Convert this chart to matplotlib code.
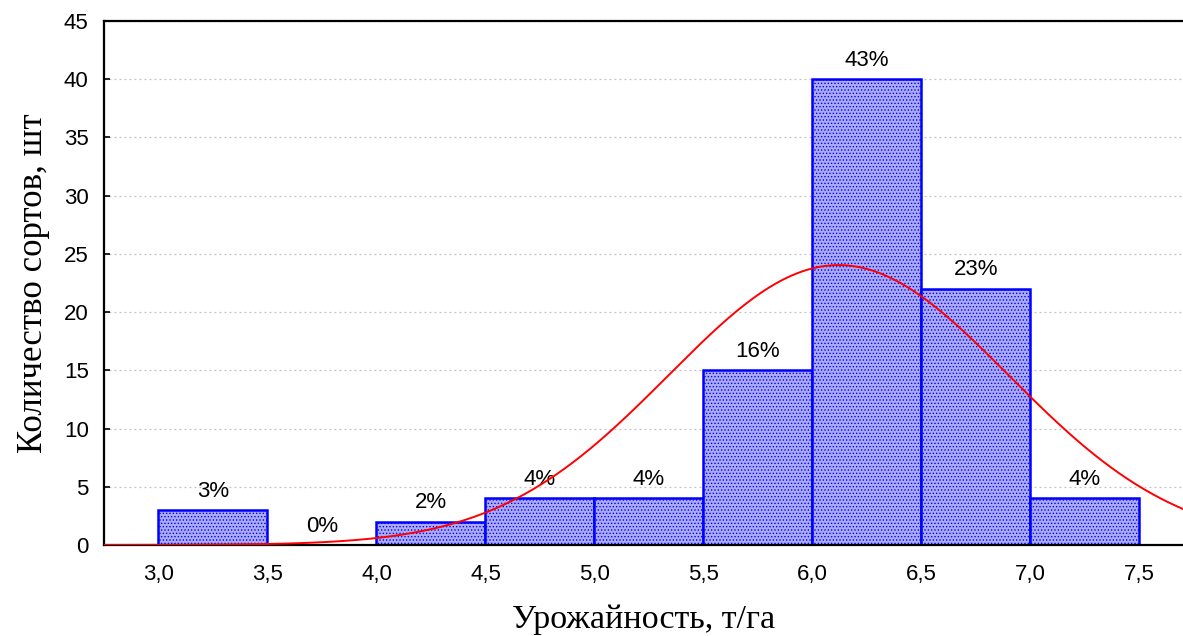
import numpy as np
import matplotlib.pyplot as plt

bin_edges = [3.0, 3.5, 4.0, 4.5, 5.0, 5.5, 6.0, 6.5, 7.0, 7.5]
counts = [3, 0, 2, 4, 4, 15, 40, 22, 4]
# normal fit parameters
mu = 6.12
sigma = 0.78

x_ticks = [3.0, 3.5, 4.0, 4.5, 5.0, 5.5, 6.0, 6.5, 7.0, 7.5]
y_ticks = [0, 5, 10, 15, 20, 25, 30, 35, 40, 45]

plt.rcParams['hatch.color'] = '#ffffff'
plt.rcParams['hatch.linewidth'] = 0.6

fig = plt.figure(figsize=(11.83, 6.36), dpi=100)
ax = fig.add_axes([0.0879, 0.1431, 0.9121, 0.8239])

lefts = np.array(bin_edges[:-1])
widths = np.diff(bin_edges)
total = sum(counts)

bars = ax.bar(lefts, counts, width=widths, align='edge', facecolor='#acacf6',
              edgecolor='#0000ff', linewidth=1.8, hatch='.....', zorder=2)

for left, w, c in zip(lefts, widths, counts):
    ax.annotate('%d%%' % round(100.0 * c / total), (left + w / 2, c),
                xytext=(0, 6), textcoords='offset points', ha='center', va='bottom',
                fontsize=16, family='Liberation Sans')

xs = np.linspace(2.75, 7.8, 400)
ys = total * 0.5 / (sigma * np.sqrt(2 * np.pi)) * np.exp(-0.5 * ((xs - mu) / sigma) ** 2)
ax.plot(xs, ys, color='#ff0000', linewidth=1.4, zorder=3)

ax.set_xlim(2.75, 7.70)
ax.set_ylim(0, 45)
ax.set_xticks(x_ticks)
ax.set_xticklabels([('%.1f' % v).replace('.', ',') for v in x_ticks],
                   fontsize=16, family='Liberation Sans')
ax.set_yticks(y_ticks)
ax.set_yticklabels([str(v) for v in y_ticks], fontsize=16, family='Liberation Sans')
ax.tick_params(axis='y', direction='in', length=4, width=1.2, pad=11)
ax.tick_params(axis='x', length=0, pad=14)

ax.yaxis.grid(True, linestyle=(0, (1.5, 2.5)), color='#c0c0c0', linewidth=0.9, zorder=0)
ax.set_axisbelow(True)
ax.spines['right'].set_visible(False)
for s in ['left', 'bottom', 'top']:
    ax.spines[s].set_linewidth(1.6)

ax.set_xlabel('Урожайность, т/га', fontsize=24.5, family='Liberation Serif', labelpad=14)
ax.set_ylabel('Количество сортов, шт', fontsize=25, family='Liberation Serif', labelpad=10)

fig.savefig('out.png', dpi=100)
